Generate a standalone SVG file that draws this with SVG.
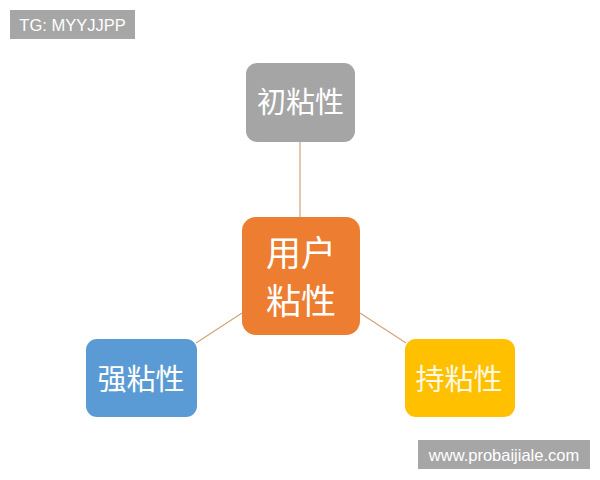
<svg xmlns="http://www.w3.org/2000/svg" width="600" height="480" viewBox="0 0 600 480">
<style>
.lbl{font-family:"Liberation Sans","Noto Sans CJK SC",sans-serif;fill:#ffffff;text-anchor:middle}
.node{font-size:29px}
.tag{font-family:"Liberation Sans",Arial,sans-serif;fill:#ffffff;font-size:16.5px;text-anchor:middle}
.conn{stroke:#d4a276;stroke-width:1.2;fill:none}
</style>
<rect width="600" height="480" fill="#ffffff"/>
<g id="tag-tg">
<rect x="10" y="10" width="125" height="29" fill="#a6a6a6"/>
<text class="tag" x="72.5" y="31">TG: MYYJJPP</text>
</g>
<g id="connectors">
<line class="conn" x1="300" y1="142" x2="300" y2="217"/>
<line class="conn" x1="196" y1="343" x2="242" y2="313"/>
<line class="conn" x1="360" y1="313" x2="406" y2="343"/>
</g>
<g id="node-chu">
<rect x="246" y="63" width="109" height="79" rx="11" fill="#a5a5a5"/>
<text class="lbl node" x="300.5" y="113">初粘性</text>
</g>
<g id="node-center">
<rect x="242" y="217" width="118" height="118" rx="14" fill="#ed7d31"/>
<text class="lbl" x="301" y="266" font-size="35">用户</text>
<text class="lbl" x="301" y="314" font-size="35">粘性</text>
</g>
<g id="node-qiang">
<rect x="86" y="339" width="111" height="78" rx="11" fill="#5b9bd5"/>
<text class="lbl node" x="141" y="390">强粘性</text>
</g>
<g id="node-chi">
<rect x="405" y="339" width="110" height="78" rx="11" fill="#ffc000"/>
<text class="lbl node" x="459" y="390" style="fill:#fff8e0">持粘性</text>
</g>
<g id="tag-url">
<rect x="418" y="440" width="172" height="29" fill="#a6a6a6"/>
<text class="tag" x="504" y="461">www.probaijiale.com</text>
</g>
</svg>
